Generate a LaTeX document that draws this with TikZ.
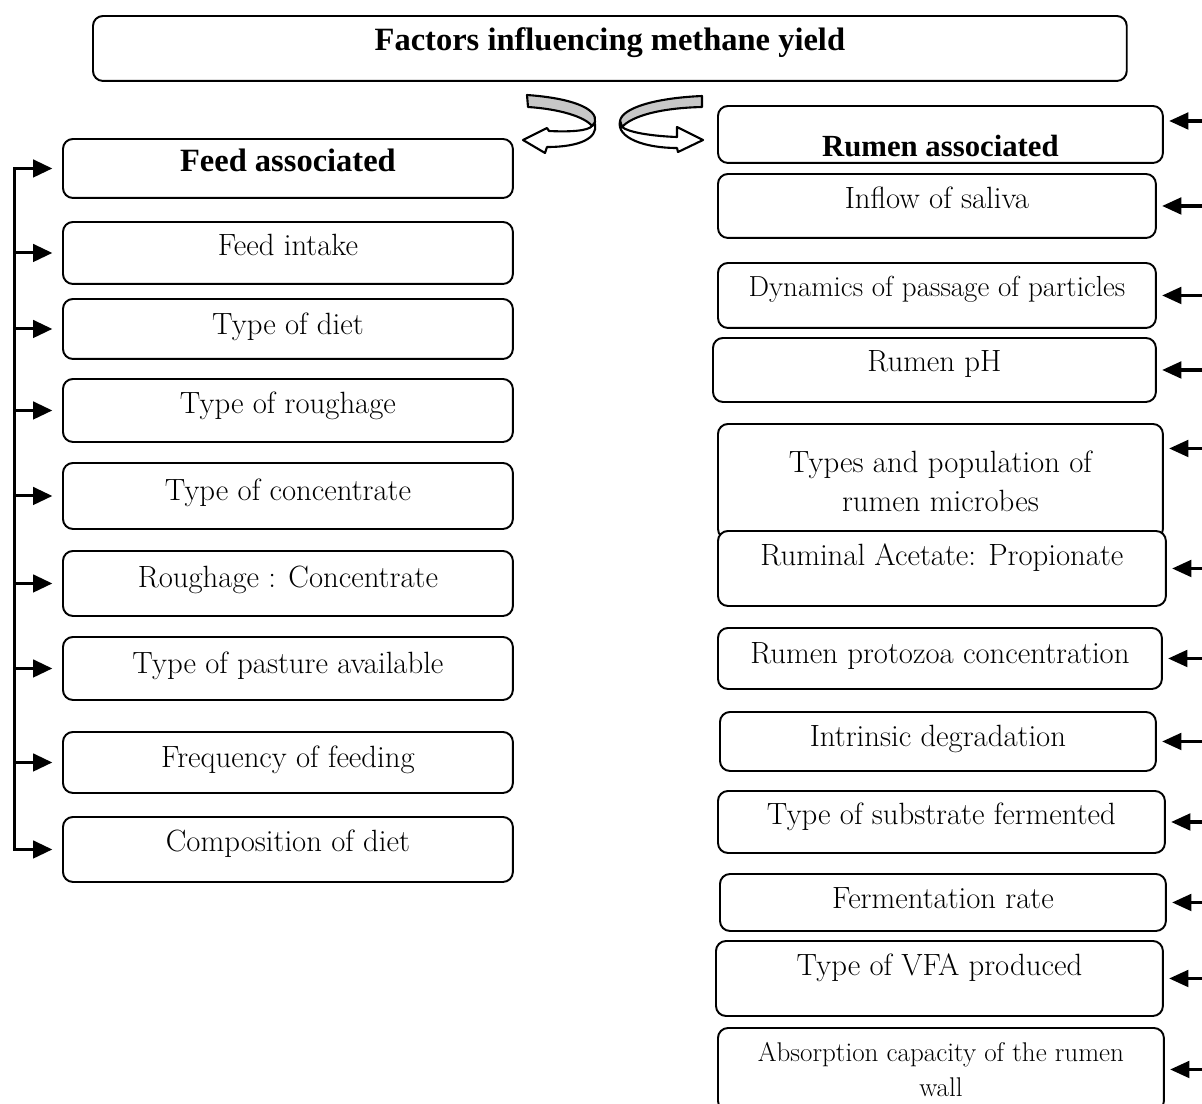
\documentclass[tikz,border=0pt]{standalone}
\usepackage{fontspec}
\usepackage{tikz}
\usetikzlibrary{arrows.meta}
\newfontfamily\headfont{Liberation Serif}
\newcommand{\cellfont}{\fontsize{17.5}{22}\selectfont}

\begin{document}
\begin{tikzpicture}[x=0.02cm,y=-0.02cm,
    cell/.style={draw,line width=1.1pt,rounded corners=0.2cm,fill=white,anchor=north west,inner sep=0pt,font=\cellfont},
    head/.style={cell,font=\headfont\bfseries\fontsize{18.5}{22}\selectfont},
    feedarr/.style={line width=1.7pt,-{Triangle[length=11pt,width=10pt]},shorten >=5.5pt},
    rumenarr/.style={line width=1.8pt,-{Triangle[length=11pt,width=9.5pt]},shorten >=3pt},
    ribbon/.style={draw,line width=1.2pt,line join=round}]
  \useasboundingbox (0,0) rectangle (1202,1103);

  \node[head,minimum width=20.68cm,text height=0.70cm,text depth=0.60cm] (top) at (92,15) {Factors influencing methane yield};

  % feed side
  \node[head,minimum width=9cm,text height=0.66cm,text depth=0.52cm] (feed) at (62,138) {Feed associated};
  \node[cell,minimum width=9cm,text height=0.68cm,text depth=0.56cm] (intake) at (62,221) {Feed intake};
  \node[cell,minimum width=9cm,text height=0.72cm,text depth=0.48cm] (diet) at (62,298) {Type of diet};
  \node[cell,minimum width=9cm,text height=0.70cm,text depth=0.56cm] (rough) at (62,378) {Type of roughage};
  \node[cell,minimum width=9cm,text height=0.76cm,text depth=0.56cm] (conc) at (62,462) {Type of concentrate};
  \node[cell,minimum width=9cm,text height=0.74cm,text depth=0.56cm] (ratio) at (62,550) {Roughage : Concentrate};
  \node[cell,minimum width=9cm,text height=0.74cm,text depth=0.52cm] (pasture) at (62,636) {Type of pasture available};
  \node[cell,minimum width=9cm,text height=0.72cm,text depth=0.50cm] (freq) at (62,731) {Frequency of feeding};
  \node[cell,minimum width=9cm,text height=0.70cm,text depth=0.60cm] (compos) at (62,816) {Composition of diet};

  % rumen side
  \node[head,font=\headfont\bfseries\fontsize{17.5}{22}\selectfont,minimum width=8.9cm,text height=1.02cm,text depth=0.12cm] (rumen) at (717,105) {Rumen associated};
  \node[cell,minimum width=8.76cm,text height=0.70cm,text depth=0.58cm] (saliva) at (717,173) {Inflow of saliva};
  \node[cell,font=\fontsize{16.5}{20}\selectfont,minimum width=8.76cm,text height=0.68cm,text depth=0.62cm] (passage) at (717,262) {Dynamics of passage of particles};
  \node[cell,minimum width=8.86cm,text height=0.68cm,text depth=0.60cm] (ph) at (712,337) {Rumen pH};
  \node[cell,align=center,minimum width=8.9cm,minimum height=2.3cm] (microbes) at (717,423) {Types and population of\\rumen microbes};
  \node[cell,minimum width=8.96cm,text height=0.70cm,text depth=0.80cm] (acetate) at (717,530) {Ruminal Acetate: Propionate};
  \node[cell,minimum width=8.88cm,text height=0.72cm,text depth=0.50cm] (protozoa) at (717,627) {Rumen protozoa concentration};
  \node[cell,minimum width=8.72cm,text height=0.70cm,text depth=0.48cm] (degrad) at (719,711) {Intrinsic degradation};
  \node[cell,minimum width=8.94cm,text height=0.68cm,text depth=0.56cm] (substr) at (717,790) {Type of substrate fermented};
  \node[cell,minimum width=8.92cm,text height=0.70cm,text depth=0.44cm] (ferm) at (719,873) {Fermentation rate};
  \node[cell,minimum width=8.94cm,text height=0.70cm,text depth=0.80cm] (vfa) at (715,940) {Type of VFA produced};
  \node[cell,font=\fontsize{15.4}{20}\selectfont,align=center,minimum width=8.92cm,minimum height=1.66cm] (absorb) at (717,1027) {Absorption capacity of the rumen\\wall};

  % twisted arrows under the title
  \draw[ribbon,fill=black!22] (527,95) .. controls (570,98) and (598,108) .. (595,122) -- (592,126) .. controls (585,117) and (560,109) .. (528,107) -- cycle;
  \draw[ribbon,fill=white] (595,124) .. controls (598,138) and (580,147) .. (547,147) -- (545,153) -- (523,140) -- (547,128) -- (549,131) .. controls (570,132) and (588,131) .. (592,126) -- cycle;
  \draw[ribbon,fill=black!22] (702,96) .. controls (655,98) and (622,108) .. (620,121) -- (622,127) .. controls (632,116) and (660,108) .. (702,107) -- cycle;
  \draw[ribbon,fill=white] (620,121) .. controls (616,138) and (645,148) .. (677,148) -- (678,152) -- (703,140) -- (677,127) -- (677,137) .. controls (650,136) and (628,132) .. (622,127) -- cycle;

  % left bracket
  \coordinate (lbus) at ([xshift=-0.96cm]feed.west);
  \draw[feedarr] (lbus |- compos.west) -- (lbus) -- (feed.west);
  \draw[feedarr] (lbus) |- (compos.west);
  \foreach \n in {intake,diet,rough,conc,ratio,pasture,freq}
    \draw[feedarr] (lbus |- \n.west) -- (\n.west);

  % right bracket (runs just outside the page)
  \coordinate (rbus) at ([xshift=1cm]rumen.east);
  \draw[line width=1.8pt] ([yshift=0.27cm]rbus) -- (rbus |- absorb.east);
  \draw[rumenarr] ([yshift=0.27cm]rbus) -- ([yshift=0.27cm]rumen.east);
  \draw[rumenarr] ([xshift=1cm,yshift=0.66cm]microbes.east) -- ([yshift=0.66cm]microbes.east);
  \foreach \n in {saliva,passage,ph,acetate,protozoa,degrad,substr,ferm,vfa,absorb}
    \draw[rumenarr] (rbus |- \n.east) -- (\n.east);
\end{tikzpicture}
\end{document}
